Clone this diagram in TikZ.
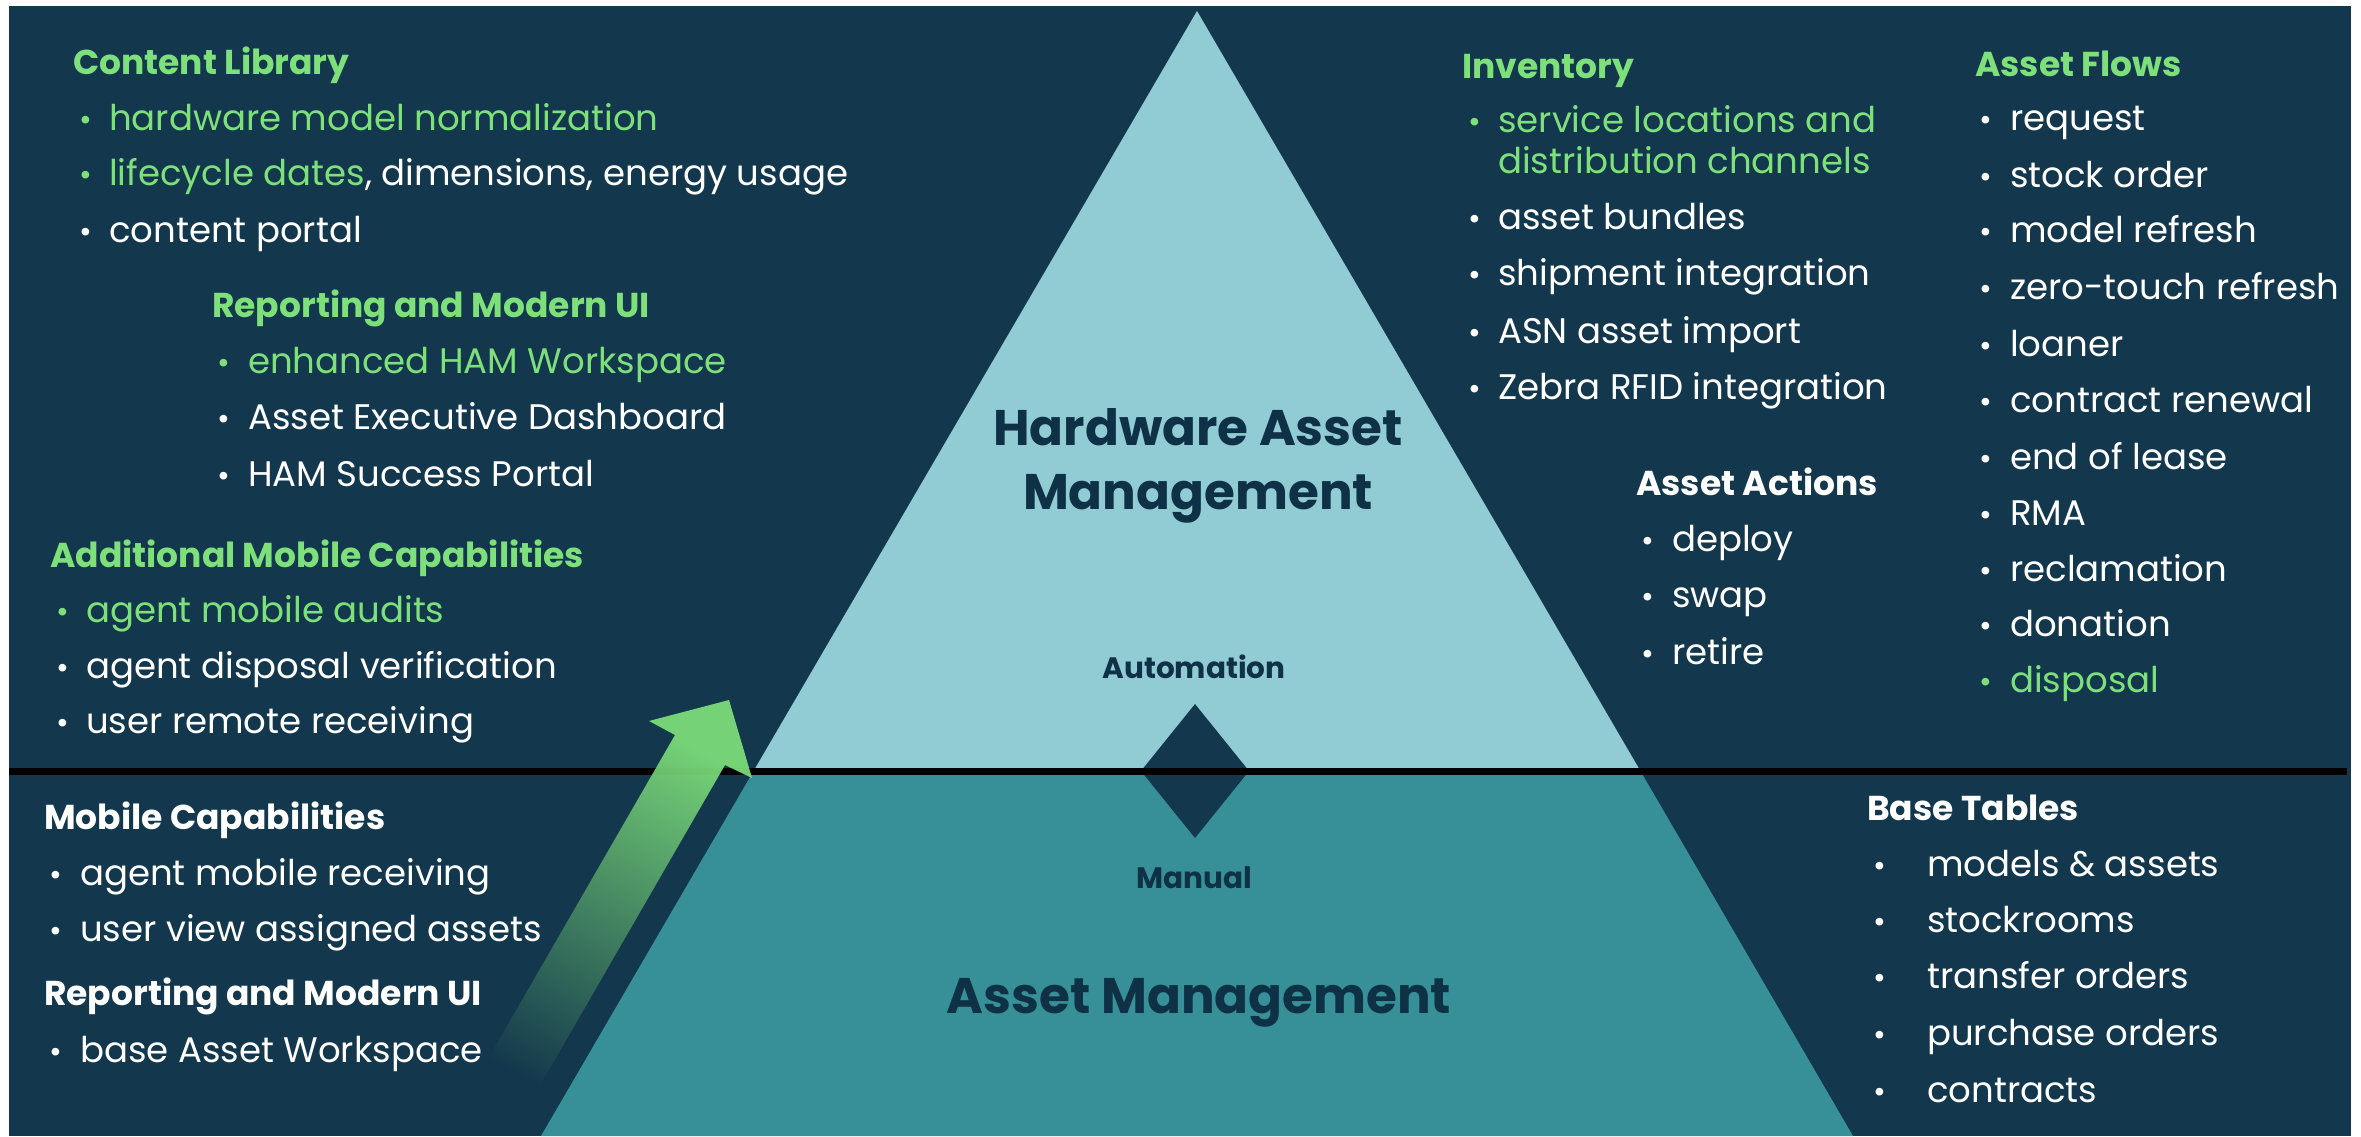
\documentclass[tikz,border=0pt]{standalone}
\usepackage{fontspec}
\setmainfont{Poppins}
\definecolor{bg}{HTML}{13384D}
\definecolor{lite}{HTML}{91CBD4}
\definecolor{tealx}{HTML}{378F98}
\definecolor{grn}{HTML}{7EE07A}
\definecolor{navy}{HTML}{0E3146}
\tikzset{
  hd/.style={anchor=base west, inner sep=0pt, font=\fontsize{34.5}{40}\selectfont\bfseries},
  itm/.style={anchor=base west, inner sep=0pt, font=\fontsize{35.5}{42}\selectfont},
  bul/.style={anchor=base west, inner sep=0pt, font=\fontsize{31}{40}\selectfont},
  ttl/.style={anchor=base, inner sep=0pt, text=navy, font=\fontsize{50}{56}\selectfont\bfseries},
  sml/.style={anchor=base, inner sep=0pt, text=navy, font=\fontsize{29.5}{34}\selectfont\bfseries},
}
\begin{document}
\begin{tikzpicture}[x=1pt,y=-1pt]
\useasboundingbox (0,0) rectangle (2361,1136);
\fill[white] (0,0) rectangle (2361,1136);
\fill[bg] (9,6) rectangle (2351,1136);
% pyramid
\coordinate (apex) at (1197,11);
\coordinate (ml) at (753,772);
\coordinate (mr) at (1641,772);
\coordinate (bl) at (541,1136);
\coordinate (br) at (1853,1136);
\fill[lite] (apex) -- (ml) -- (mr) -- cycle;
\fill[tealx] (ml) -- (mr) -- (br) -- (bl) -- cycle;
% diamond
\coordinate (dt) at (1195,704);
\coordinate (dr) at (1249,771);
\coordinate (db) at (1195,838);
\coordinate (dl) at (1141,771);
\fill[bg] (dt) -- (dr) -- (db) -- (dl) -- cycle;
% separator line
\coordinate (ls) at (9,771.5);
\coordinate (le) at (2347,771.5);
\draw[black, line width=7pt] (ls) -- (le);
% arrow
\coordinate (aT) at (729,700);
\coordinate (aRB) at (752,778);
\coordinate (aRN) at (725,765);
\coordinate (aRBot) at (516,1127);
\coordinate (aLBot) at (466,1097);
\coordinate (aLN) at (675,735);
\coordinate (aLB) at (649,721);
\shade[top color=grn, middle color=grn!62!bg, bottom color=bg, shading angle=-30, opacity=0.92]
  (aT) -- (aRB) -- (aRN) -- (aRBot) -- (aLBot) -- (aLN) -- (aLB) -- cycle;
% titles
\node[ttl] (ham1) at (1198,445) {Hardware Asset};
\node[ttl] (ham2) at (1198,509) {Management};
\node[ttl] (am) at (1199,1013) {Asset Management};
\node[sml] (auto) at (1194,678) {Automation};
\node[sml] (man) at (1194,888) {Manual};
% Content Library
\node[hd, text=grn] (clh) at (73,74) {Content Library};
\node[bul, text=grn] (clb1) at (79,130) {•};
\node[itm, text=grn] (cl1) at (109,130) {hardware model normalization};
\node[bul, text=grn] (clb2) at (79,185) {•};
\node[itm, text=white] (cl2) at (109,185) {\textcolor{grn}{lifecycle dates}, dimensions, energy usage};
\node[bul, text=white] (clb3) at (79,242) {•};
\node[itm, text=white] (cl3) at (109,242) {content portal};
% Reporting upper
\node[hd, text=grn] (rph) at (212,317) {Reporting and Modern UI};
\node[bul, text=grn] (rpb1) at (217,373) {•};
\node[itm, text=grn] (rp1) at (248,373) {enhanced HAM Workspace};
\node[bul, text=white] (rpb2) at (217,429) {•};
\node[itm, text=white] (rp2) at (248,429) {Asset Executive Dashboard};
\node[bul, text=white] (rpb3) at (217,486) {•};
\node[itm, text=white] (rp3) at (248,486) {HAM Success Portal};
% Additional Mobile
\node[hd, text=grn] (amh) at (50,567) {Additional Mobile Capabilities};
\node[bul, text=grn] (amb1) at (56,622) {•};
\node[itm, text=grn] (am1) at (86,622) {agent mobile audits};
\node[bul, text=white] (amb2) at (56,678) {•};
\node[itm, text=white] (am2) at (86,678) {agent disposal verification};
\node[bul, text=white] (amb3) at (56,733) {•};
\node[itm, text=white] (am3) at (86,733) {user remote receiving};
% Mobile Capabilities
\node[hd, text=white] (mch) at (44,829) {Mobile Capabilities};
\node[bul, text=white] (mcb1) at (49,885) {•};
\node[itm, text=white] (mc1) at (80,885) {agent mobile receiving};
\node[bul, text=white] (mcb2) at (49,941) {•};
\node[itm, text=white] (mc2) at (80,941) {user view assigned assets};
\node[hd, text=white] (rlh) at (44,1005) {Reporting and Modern UI};
\node[bul, text=white] (rlb1) at (49,1062) {•};
\node[itm, text=white] (rl1) at (80,1062) {base Asset Workspace};
% Inventory
\node[hd, text=grn] (invh) at (1462,78) {Inventory};
\node[bul, text=grn] (invb1) at (1468,132.5) {•};
\node[itm, text=grn] (inv1a) at (1498,132.5) {service locations and};
\node[itm, text=grn] (inv1b) at (1498,173) {distribution channels};
\foreach \t/\y [count=\i from 2] in {asset bundles/229, shipment integration/285, ASN asset import/343, Zebra RFID integration/399}{
  \node[bul, text=white] (invb\i) at (1468,\y) {•};
  \node[itm, text=white] (inv\i) at (1498,\y) {\t};
}
% Asset Actions
\node[hd, text=white] (aah) at (1636,495) {Asset Actions};
\foreach \t/\y [count=\i] in {deploy/551, swap/607, retire/664}{
  \node[bul, text=white] (aab\i) at (1641,\y) {•};
  \node[itm, text=white] (aa\i) at (1672,\y) {\t};
}
% Asset Flows
\node[hd, text=grn] (afh) at (1975,76) {Asset Flows};
\foreach \t/\y [count=\i] in {request/130, stock order/187, model refresh/242, zero-touch refresh/299, loaner/356, contract renewal/412, end of lease/469, RMA/525, reclamation/581, donation/636}{
  \node[bul, text=white] (afb\i) at (1979,\y) {•};
  \node[itm, text=white] (af\i) at (2010,\y) {\t};
}
\node[bul, text=grn] (afb11) at (1979,692) {•};
\node[itm, text=grn] (af11) at (2010,692) {disposal};
% Base Tables
\node[hd, text=white] (bth) at (1867,820) {Base Tables};
\foreach \t/\y [count=\i] in {models \& assets/876, stockrooms/932, transfer orders/988, purchase orders/1045, contracts/1102}{
  \node[bul, text=white] (btb\i) at (1873,\y) {•};
  \node[itm, text=white] (bt\i) at (1927,\y) {\t};
}
\end{tikzpicture}
\end{document}
